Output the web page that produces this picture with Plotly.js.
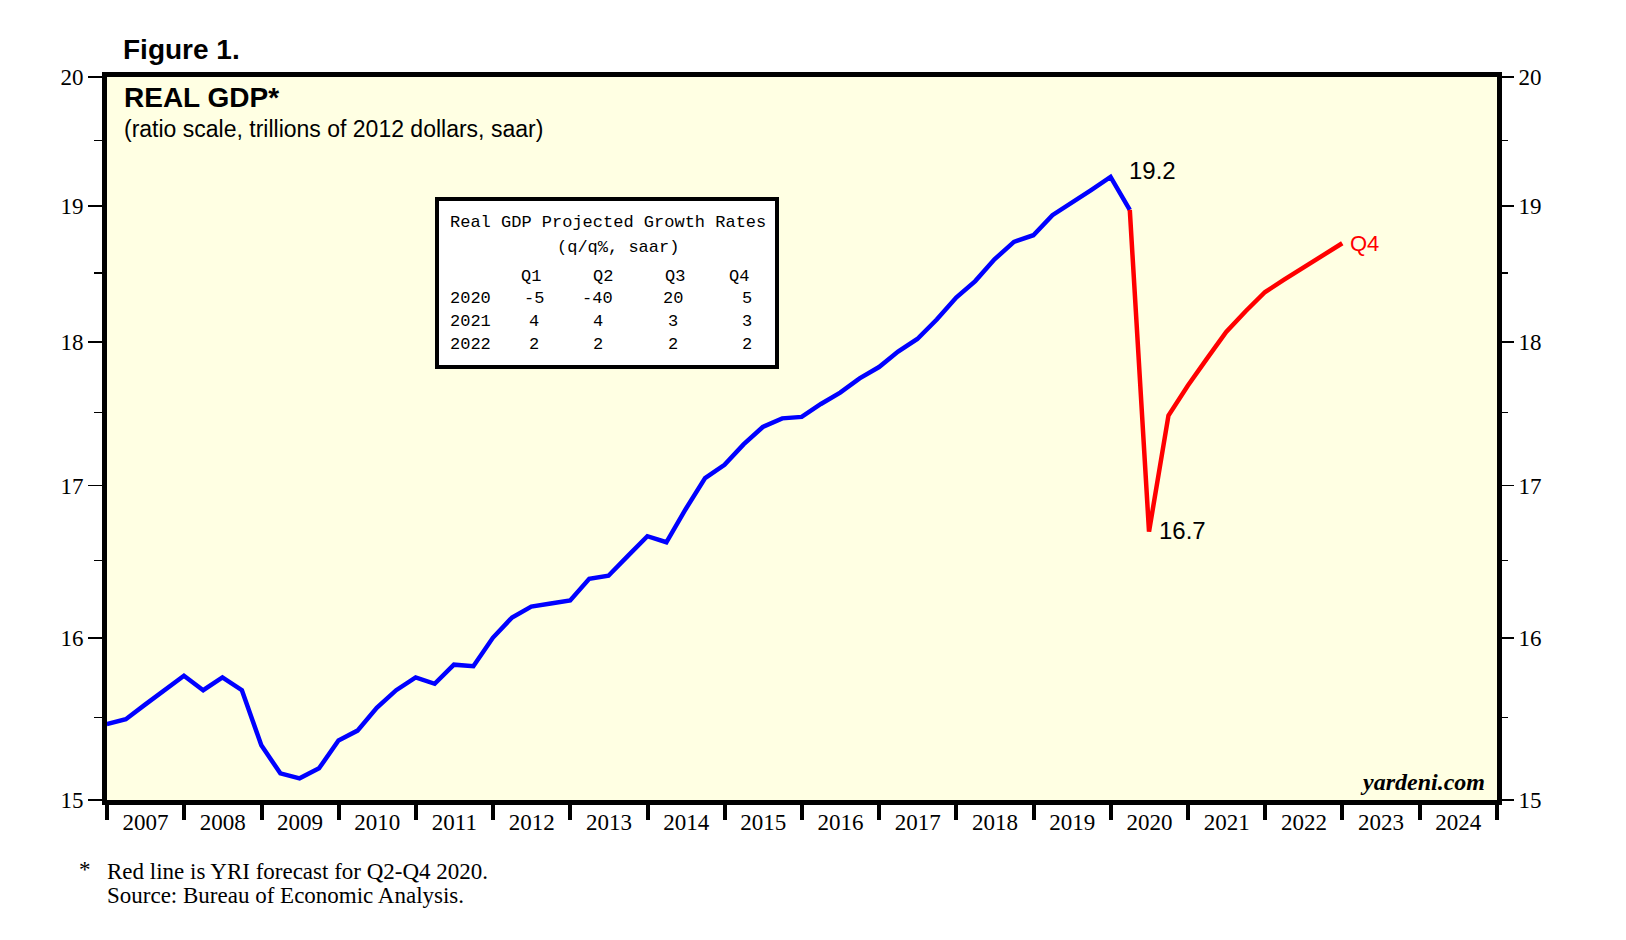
<!DOCTYPE html>
<html>
<head>
<meta charset="utf-8">
<script src="https://cdn.plot.ly/plotly-3.0.1.min.js"></script>
<style>
html,body{margin:0;padding:0;background:#ffffff;}
#chart{width:1626px;height:940px;}
</style>
</head>
<body>
<div id="chart"></div>
<script>
// ---------- DATA ----------
const actualQuarters = [
  '2006Q4',
  '2007Q1','2007Q2','2007Q3','2007Q4',
  '2008Q1','2008Q2','2008Q3','2008Q4',
  '2009Q1','2009Q2','2009Q3','2009Q4',
  '2010Q1','2010Q2','2010Q3','2010Q4',
  '2011Q1','2011Q2','2011Q3','2011Q4',
  '2012Q1','2012Q2','2012Q3','2012Q4',
  '2013Q1','2013Q2','2013Q3','2013Q4',
  '2014Q1','2014Q2','2014Q3','2014Q4',
  '2015Q1','2015Q2','2015Q3','2015Q4',
  '2016Q1','2016Q2','2016Q3','2016Q4',
  '2017Q1','2017Q2','2017Q3','2017Q4',
  '2018Q1','2018Q2','2018Q3','2018Q4',
  '2019Q1','2019Q2','2019Q3','2019Q4',
  '2020Q1'
];
// Real GDP, trillions of 2012 dollars, saar
const actualGDP = [
  15.46,
  15.49, 15.58, 15.67, 15.76,
  15.67, 15.75, 15.67, 15.33,
  15.16, 15.13, 15.19, 15.36,
  15.42, 15.56, 15.67, 15.75,
  15.71, 15.83, 15.82, 16.00,
  16.13, 16.20, 16.22, 16.24,
  16.38, 16.40, 16.53, 16.66,
  16.62, 16.84, 17.05, 17.14,
  17.28, 17.40, 17.46, 17.47,
  17.56, 17.64, 17.74, 17.82,
  17.93, 18.02, 18.16, 18.32,
  18.44, 18.60, 18.73, 18.78,
  18.93, 19.02, 19.12, 19.22,
  18.97
];
const forecastQuarters = [
  '2020Q1','2020Q2','2020Q3','2020Q4',
  '2021Q1','2021Q2','2021Q3','2021Q4',
  '2022Q1','2022Q2','2022Q3','2022Q4'
];
const forecastGDP = [
  18.97, 16.69, 17.48, 17.69,
  17.88, 18.07, 18.22, 18.36,
  18.45, 18.54, 18.63, 18.72
];
const yTickVals = [15, 16, 17, 18, 19, 20];
const yMinorVals = [15.5, 16.5, 17.5, 18.5, 19.5];

// Projected growth table
const tableTitle = 'Real GDP Projected Growth Rates';
const tableSubtitle = '(q/q%, saar)';
const tableQuarters = ['Q1', 'Q2', 'Q3', 'Q4'];
const tableYears = ['2020', '2021', '2022'];
const rates2020 = ['-5', '-40', '20', '5'];
const rates2021 = ['4', '4', '3', '3'];
const rates2022 = ['2', '2', '2', '2'];
const tableRates = [rates2020, rates2021, rates2022];

// ---------- HELPERS ----------
function qToDate(q) {
  const y = q.slice(0, 4);
  const n = parseInt(q.slice(5), 10);
  const mm = ['03', '06', '09', '12'][n - 1];
  const dd = ['31', '30', '30', '31'][n - 1];
  return y + '-' + mm + '-' + dd;
}
const actualX = actualQuarters.map(qToDate);
const forecastX = forecastQuarters.map(qToDate);

// pixel -> paper helpers (plot area 107..1497 x, 77..800 y)
const PL = 107, PR = 1497, PT = 77, PB = 800;
const px = v => (v - PL) / (PR - PL);
const py = v => (PB - v) / (PB - PT);

const serif = 'Liberation Serif, Times New Roman, serif';
const sans = 'Liberation Sans, Arial, sans-serif';
const mono = 'Liberation Mono, Courier New, monospace';

// ---------- TRACES ----------
const traces = [
  {
    x: actualX, y: actualGDP, type: 'scatter', mode: 'lines',
    line: {color: '#0000FF', width: 4.5}, hoverinfo: 'x+y', xaxis: 'x', yaxis: 'y'
  },
  {
    x: forecastX, y: forecastGDP, type: 'scatter', mode: 'lines',
    line: {color: '#FF0000', width: 4.5}, hoverinfo: 'x+y', xaxis: 'x', yaxis: 'y2'
  }
];

// ---------- ANNOTATIONS ----------
const annotations = [];
function txt(o) { annotations.push(Object.assign({showarrow: false, xref: 'paper', yref: 'paper'}, o)); }

txt({x: px(121), y: py(50), xanchor: 'left', yanchor: 'middle', text: '<b>Figure 1.</b>',
     font: {family: sans, size: 28, color: '#000'}});
txt({x: px(122), y: py(97), xanchor: 'left', yanchor: 'middle', text: '<b>REAL GDP*</b>',
     font: {family: sans, size: 28, color: '#000'}});
txt({x: px(122), y: py(129), xanchor: 'left', yanchor: 'middle',
     text: '(ratio scale, trillions of 2012 dollars, saar)',
     font: {family: sans, size: 23, color: '#000'}});
txt({x: px(1487), y: py(782), xanchor: 'right', yanchor: 'middle', text: '<b><i>yardeni.com</i></b>',
     font: {family: serif, size: 24, color: '#000'}});
txt({x: px(85), y: py(869), xanchor: 'center', yanchor: 'middle', text: '*',
     font: {family: serif, size: 23, color: '#000'}});
txt({x: px(105), y: py(871), xanchor: 'left', yanchor: 'middle', text: 'Red line is YRI forecast for Q2-Q4 2020.',
     font: {family: serif, size: 23, color: '#000'}});
txt({x: px(105), y: py(895), xanchor: 'left', yanchor: 'middle', text: 'Source: Bureau of Economic Analysis.',
     font: {family: serif, size: 23, color: '#000'}});

// data labels
const peakIdx = actualGDP.indexOf(Math.max(...actualGDP));
annotations.push({x: actualX[peakIdx], y: Math.log10(actualGDP[peakIdx]), xref: 'x', yref: 'y',
  showarrow: false, xanchor: 'left', yanchor: 'middle', xshift: 16, yshift: 6,
  text: actualGDP[peakIdx].toFixed(1), font: {family: sans, size: 24, color: '#000'}});
const troughIdx = forecastGDP.indexOf(Math.min(...forecastGDP));
annotations.push({x: forecastX[troughIdx], y: Math.log10(forecastGDP[troughIdx]), xref: 'x', yref: 'y',
  showarrow: false, xanchor: 'left', yanchor: 'middle', xshift: 8, yshift: 1,
  text: forecastGDP[troughIdx].toFixed(1), font: {family: sans, size: 24, color: '#000'}});
const lastIdx = forecastGDP.length - 1;
annotations.push({x: forecastX[lastIdx], y: Math.log10(forecastGDP[lastIdx]), xref: 'x', yref: 'y',
  showarrow: false, xanchor: 'left', yanchor: 'middle', xshift: 6, yshift: 0,
  text: forecastQuarters[lastIdx].slice(4), font: {family: sans, size: 22, color: '#FF0000'}});

// table
const T0 = 448.3, CW = 10.3;
const colX = c => px(T0 + c * CW);
const tfont = {family: mono, size: 17, color: '#000'};
txt({x: colX(0), y: py(223), xanchor: 'left', yanchor: 'middle', text: tableTitle, font: tfont});
txt({x: colX(10.36), y: py(247), xanchor: 'left', yanchor: 'middle', text: tableSubtitle, font: tfont});
const headCenters = [8, 15, 22, 28.2];
const valCenters = [8.3, 14.5, 21.8, 29];
tableQuarters.forEach((q, i) => txt({x: colX(headCenters[i]), y: py(276), xanchor: 'center', yanchor: 'middle', text: q, font: tfont}));
const rowY = [298, 321, 344];
tableYears.forEach((yr, r) => {
  txt({x: colX(0), y: py(rowY[r]), xanchor: 'left', yanchor: 'middle', text: yr, font: tfont});
  tableRates[r].forEach((v, i) => txt({x: colX(valCenters[i]), y: py(rowY[r]), xanchor: 'center', yanchor: 'middle', text: v, font: tfont}));
});

// ---------- LAYOUT ----------
const yRange = [Math.log10(15), Math.log10(20)];
const yCommon = {
  type: 'log', range: yRange, tickmode: 'array', tickvals: yTickVals, ticktext: yTickVals.map(String),
  ticks: 'outside', ticklen: 14, tickwidth: 1.5, tickcolor: '#000',
  minor: {tickmode: 'array', tickvals: yMinorVals, ticks: 'outside', ticklen: 8, tickwidth: 1.5, tickcolor: '#000', showgrid: false},
  showgrid: false, zeroline: false, fixedrange: true,
  tickfont: {family: serif, size: 23, color: '#000'}
};

const layout = {
  width: 1626, height: 940,
  margin: {l: PL, r: 1626 - PR, t: PT, b: 940 - PB, pad: 0},
  paper_bgcolor: '#FFFFFF', plot_bgcolor: '#FFFFE3',
  showlegend: false,
  xaxis: {
    type: 'date', range: ['2007-01-01', '2025-01-01'], tickmode: 'linear', tick0: '2007-01-01', dtick: 'M12',
    tickformat: '%Y', ticklabelmode: 'period', ticks: 'outside', ticklen: 15, tickwidth: 4, tickcolor: '#000',
    showline: true, linewidth: 5, linecolor: '#000', mirror: true, showgrid: false, zeroline: false,
    fixedrange: true, ticklabelstandoff: -18,
    tickfont: {family: serif, size: 23, color: '#000'}
  },
  yaxis: Object.assign({}, yCommon, {side: 'left', showline: true, linewidth: 5, linecolor: '#000', mirror: true}),
  yaxis2: Object.assign({}, yCommon, {side: 'right', overlaying: 'y', anchor: 'x', showline: false, ticklen: 16,
    minor: Object.assign({}, yCommon.minor, {ticklen: 10})}),
  shapes: [
    {type: 'rect', xref: 'paper', yref: 'paper', x0: px(437), x1: px(777), y0: py(367), y1: py(199),
     line: {color: '#000', width: 4}, fillcolor: '#FFFFFF', layer: 'above'}
  ],
  annotations: annotations
};

Plotly.newPlot('chart', traces, layout, {displayModeBar: false, staticPlot: true});
</script>
</body>
</html>
